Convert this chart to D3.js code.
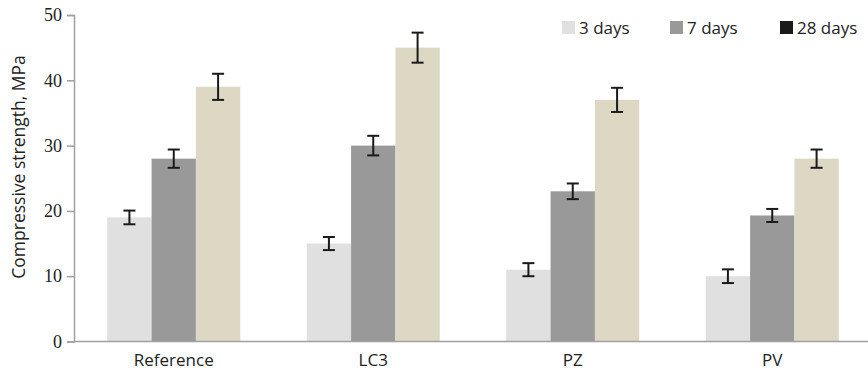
<!DOCTYPE html>
<html>
<head>
<meta charset="utf-8">
<script src="https://cdn.jsdelivr.net/npm/d3@7"></script>
<style>
  body { margin: 0; background: #fff; }
  svg { display: block; }
</style>
</head>
<body>
<svg id="chart" width="868" height="375"></svg>
<script>
const categories = ["Reference", "LC3", "PZ", "PV"];
const seriesNames = ["3 days", "7 days", "28 days"];
const days3 = [19, 15, 11, 10];
const days7 = [28, 30, 23, 19.3];
const days28 = [39, 45, 37, 28];
const err3 = [1.05, 1.0, 1.0, 1.05];
const err7 = [1.4, 1.5, 1.2, 1.0];
const err28 = [2.0, 2.3, 1.85, 1.4];
const yTicks = [0, 10, 20, 30, 40, 50];

const barColors = ["#e0e0e0", "#999999", "#ddd8c3"];
const legendColors = ["#e0e0e0", "#999999", "#1a1a1a"];

const values = [days3, days7, days28];
const errors = [err3, err7, err28];

const svg = d3.select("#chart");

const x = d3.scaleBand().domain(categories).range([74, 872]).paddingInner(1 / 3).paddingOuter(1 / 6);
const xs = d3.scaleBand().domain(seriesNames).range([0, x.bandwidth()]).padding(0);
const y = d3.scaleLinear().domain([0, 50]).range([341.5, 15]);

const data = [];
categories.forEach((c, i) => {
  seriesNames.forEach((s, j) => {
    data.push({ c, s, j, v: values[j][i], e: errors[j][i] });
  });
});

svg.append("g").selectAll("rect").data(data).join("rect")
  .attr("x", d => x(d.c) + xs(d.s))
  .attr("y", d => y(d.v))
  .attr("width", xs.bandwidth())
  .attr("height", d => y(0) - y(d.v))
  .attr("fill", d => barColors[d.j]);

const eg = svg.append("g").attr("stroke", "#1a1a1a").attr("stroke-width", 2);
data.forEach(d => {
  const cx = x(d.c) + xs(d.s) + xs.bandwidth() / 2;
  const y1 = y(d.v + d.e), y2 = y(d.v - d.e);
  eg.append("line").attr("x1", cx).attr("x2", cx).attr("y1", y1).attr("y2", y2);
  eg.append("line").attr("x1", cx - 6).attr("x2", cx + 6).attr("y1", y1).attr("y2", y1);
  eg.append("line").attr("x1", cx - 6).attr("x2", cx + 6).attr("y1", y2).attr("y2", y2);
});

const yAxis = d3.axisLeft(y).tickValues(yTicks).tickSize(7).tickPadding(5);
const gy = svg.append("g").attr("transform", "translate(74,0)").call(yAxis);
gy.select(".domain").attr("stroke", "#a0a0a0").attr("stroke-width", 1.5);
gy.selectAll(".tick line").attr("stroke", "#a0a0a0").attr("stroke-width", 1.5);
gy.selectAll(".tick text")
  .attr("font-family", "'Liberation Serif', 'Times New Roman', serif")
  .attr("font-size", 18).attr("fill", "#222");

const xAxis = d3.axisBottom(x).tickSize(0).tickPadding(12);
const gx = svg.append("g").attr("transform", "translate(0,341.5)").call(xAxis);
gx.select(".domain").attr("stroke", "#a0a0a0").attr("stroke-width", 1.5).attr("d", "M74,0H868");
gx.selectAll(".tick text")
  .attr("font-family", "'Open Sans', sans-serif")
  .attr("font-size", 17).attr("fill", "#222");

svg.append("text")
  .attr("transform", "translate(25,167) rotate(-90)")
  .attr("text-anchor", "middle")
  .attr("font-family", "'Open Sans', sans-serif")
  .attr("font-size", 17.5).attr("fill", "#222")
  .text("Compressive strength, MPa");

const legendX = [562, 670, 780];
const lg = svg.append("g");
seriesNames.forEach((s, j) => {
  lg.append("rect").attr("x", legendX[j]).attr("y", 21).attr("width", 13).attr("height", 13)
    .attr("fill", legendColors[j]);
  lg.append("text").attr("x", legendX[j] + 17).attr("y", 33.5)
    .attr("font-family", "'Open Sans', sans-serif").attr("font-size", 17).attr("fill", "#222")
    .text(s);
});
</script>
</body>
</html>
